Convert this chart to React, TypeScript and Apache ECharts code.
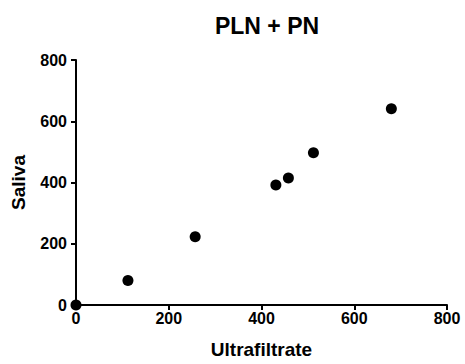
import React, { useEffect, useRef } from "react";
import * as echarts from "echarts";

const ultrafiltrate = [0, 112, 257, 431, 458, 512, 680];
const saliva = [0, 80, 223, 392, 415, 497, 641];
const title = "PLN + PN";
const xName = "Ultrafiltrate";
const yName = "Saliva";

export default function App() {
  const ref = useRef<HTMLDivElement>(null);
  useEffect(() => {
    const chart = echarts.init(ref.current!, null, { renderer: "svg" });
    const font = "'Liberation Sans', Arial, sans-serif";
    chart.setOption({
      animation: false,
      title: {
        text: title,
        left: 262,
        textAlign: "center",
        top: 9,
        textStyle: { fontFamily: font, fontWeight: "bold", fontSize: 23, color: "#000" },
      },
      grid: { left: 76, right: 18, top: 60, bottom: 57 },
      xAxis: {
        type: "value",
        min: 0,
        max: 800,
        interval: 200,
        name: xName,
        nameLocation: "middle",
        nameGap: 35,
        nameTextStyle: { fontFamily: font, fontWeight: "bold", fontSize: 19, color: "#000" },
        axisLine: { onZero: false, lineStyle: { color: "#000", width: 2 } },
        axisTick: { show: true, length: 5, lineStyle: { color: "#000", width: 2 } },
        axisLabel: { fontFamily: font, fontWeight: "bold", fontSize: 16, color: "#000", margin: 5 },
        splitLine: { show: false },
      },
      yAxis: {
        type: "value",
        min: 0,
        max: 800,
        interval: 200,
        name: yName,
        nameLocation: "middle",
        nameGap: 48,
        nameTextStyle: { fontFamily: font, fontWeight: "bold", fontSize: 19, color: "#000" },
        axisLine: { show: true, onZero: false, lineStyle: { color: "#000", width: 2 } },
        axisTick: { show: true, length: 5, lineStyle: { color: "#000", width: 2 } },
        axisLabel: { fontFamily: font, fontWeight: "bold", fontSize: 16, color: "#000", margin: 9 },
        splitLine: { show: false },
      },
      series: [
        {
          type: "scatter",
          data: ultrafiltrate.map((x, i) => [x, saliva[i]]),
          symbol: "circle",
          symbolSize: 11,
          itemStyle: { color: "#000", opacity: 1 },
          clip: false,
        },
      ],
    });
    return () => chart.dispose();
  }, []);
  return <div ref={ref} style={{ width: 465, height: 364, position: "absolute", left: 0, top: 0 }} />;
}
